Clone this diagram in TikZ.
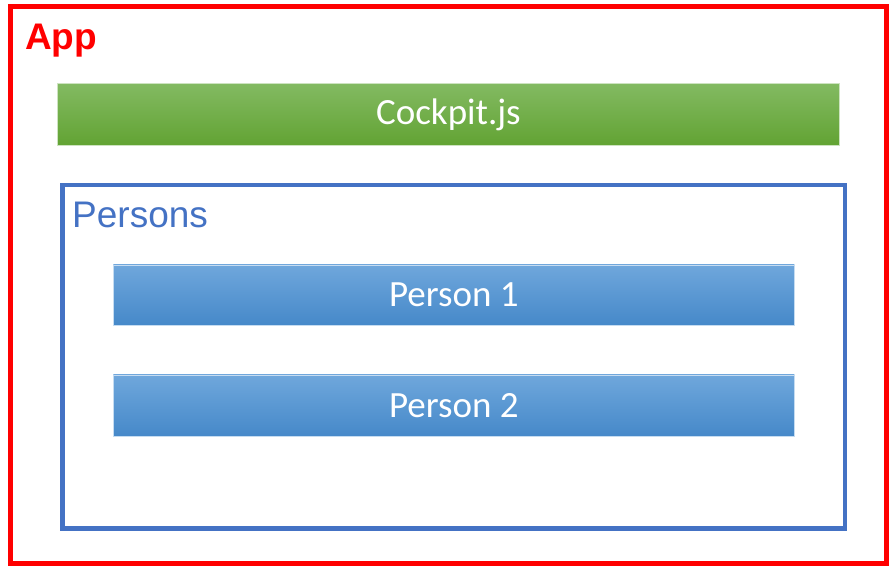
\documentclass[tikz,border=0pt]{standalone}
\usepackage{fontspec}
\setmainfont{Liberation Sans}
\newfontfamily\calib{Carlito}
\definecolor{appred}{HTML}{FF0000}
\definecolor{persblue}{HTML}{4472C4}
\definecolor{greentop}{HTML}{83BA62}
\definecolor{greenbot}{HTML}{62A333}
\definecolor{bluetop}{HTML}{6FA7DC}
\definecolor{bluebot}{HTML}{4689C9}
\tikzset{
  bar/.style={inner sep=0pt, anchor=north west, text=white, font=\calib\fontsize{37}{40}\selectfont},
  greenbar/.style={bar, top color=greentop, bottom color=greenbot, draw=greentop!40!white, line width=0.8pt},
  bluebar/.style={bar, top color=bluetop, bottom color=bluebot, draw=bluetop!40!white, line width=0.8pt},
}
\begin{document}
\begin{tikzpicture}[x=1pt,y=-1pt]
\useasboundingbox (0,0) rectangle (889,566);
\fill[white] (0,0) rectangle (889,566);
\draw[appred, line width=4.5pt] (10.5,6.5) rectangle (886.5,563.5);
\node[anchor=base west, inner sep=0pt, text=appred, font=\bfseries\fontsize{37}{40}\selectfont] (app) at (25,49) {App};
\node[greenbar, minimum width=782pt, minimum height=62pt] (cockpit) at (57,83) {Cockpit.js};
\draw[persblue, line width=4.2pt] (62.5,185) rectangle (844.7,528.5);
\node[anchor=base west, inner sep=0pt, text=persblue, font=\fontsize{37}{40}\selectfont] (persons) at (72,227) {Persons};
\node[bluebar, minimum width=681pt, minimum height=60pt] (p1) at (113,264.5) {Person 1};
\node[bluebar, minimum width=681pt, minimum height=61pt] (p2) at (113,374.5) {Person 2};
\end{tikzpicture}
\end{document}
